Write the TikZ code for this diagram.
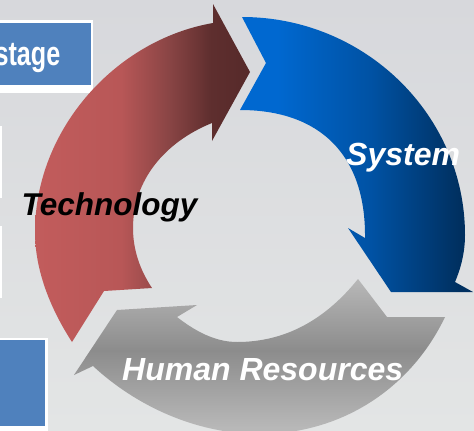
\documentclass[tikz,border=0pt]{standalone}
\usepackage{fontspec}
\setmainfont{Liberation Sans}
\newfontfamily\stagefont[FakeStretch=0.74]{Liberation Sans}
\definecolor{boxblue}{HTML}{4F81BD}
\definecolor{bgbot}{HTML}{E3E5E5}
\definecolor{bgtop}{HTML}{D7D8DC}
\definecolor{rA}{HTML}{C25C5C}
\definecolor{rB}{HTML}{B85757}
\definecolor{rC}{HTML}{8A4545}
\definecolor{rD}{HTML}{5E2E2E}
\definecolor{rE}{HTML}{562A2A}
\definecolor{bA}{HTML}{0068D0}
\definecolor{bB}{HTML}{0052A4}
\definecolor{bC}{HTML}{003060}
\definecolor{gA}{HTML}{B8B8B8}
\definecolor{gB}{HTML}{8C8C8C}
\pgfdeclareverticalshading{bgshade}{100bp}{color(0bp)=(bgbot); color(25bp)=(bgbot); color(75bp)=(bgtop); color(100bp)=(bgtop)}
\pgfdeclarehorizontalshading{redshade}{100bp}{color(0bp)=(rA); color(25bp)=(rA); color(45bp)=(rB); color(56bp)=(rC); color(66bp)=(rD); color(75bp)=(rE); color(100bp)=(rE)}
\pgfdeclarehorizontalshading{blueshade}{100bp}{color(0bp)=(bA); color(33bp)=(bA); color(53bp)=(bB); color(72bp)=(bC); color(100bp)=(bC)}
\pgfdeclareverticalshading{grayshade}{100bp}{color(0bp)=(gA); color(27bp)=(gA); color(52bp)=(gB); color(75bp)=(gA); color(100bp)=(gA)}
\tikzset{
  frame/.style={fill=white,draw=none},
  panel/.style={fill=boxblue,draw=none},
  label/.style={font=\bfseries\itshape\fontsize{32}{34}\selectfont,inner sep=0pt,anchor=base west},
  rim/.style={white,line width=2.4pt},
}
\begin{document}
\begin{tikzpicture}[x=1pt,y=-1pt]
\useasboundingbox (0,0) rectangle (474,431);
\clip (0,0) rectangle (474,431);
\shade[shading=bgshade] (0,0) rectangle (474,431);
% boxes
\fill[frame] (-10,20) rectangle (93,93);
\fill[panel] (-10,22.7) rectangle (90.7,85);
\draw[rim] (-10,127) -- (1.2,127) -- (1.2,197) -- (-10,197);
\draw[rim] (-10,227) -- (1.2,227) -- (1.2,297) -- (-10,297);
\fill[frame] (-10,337.5) rectangle (48,440);
\fill[panel] (-10,340) rectangle (45,426);
\node[font=\stagefont\bfseries\fontsize{34}{36}\selectfont,text=white,anchor=base east,inner sep=0pt] (stage) at (60.5,65.5) {stage};
% red arrow
\shade[shading=redshade] (72,342) .. controls (50,308) and (35,270) .. (35,232)
  .. controls (35,130) and (115,40) .. (213,23)
  -- (213,4) -- (250,72) -- (212,141) -- (212,123)
  .. controls (165,142) and (133,180) .. (133,228)
  .. controls (133,250) and (140,270) .. (152,288)
  -- (104,291) -- cycle;
% blue arrow
\shade[shading=blueshade] (242,17) .. controls (365,17) and (465,115) .. (465,235)
  .. controls (465,252) and (461,268) .. (455,282)
  -- (473,292) -- (391,292) -- (348,228) -- (365,238)
  .. controls (366,155) and (320,110) .. (240,110)
  -- (266,63) -- cycle;
% gray arrow
\shade[shading=grayshade] (93,366) .. controls (135,405) and (195,434) .. (260,434)
  .. controls (340,434) and (410,390) .. (445,317)
  -- (387,317) -- (358,279)
  .. controls (325,320) and (285,342) .. (237,342)
  .. controls (215,342) and (195,331) .. (177,317)
  -- (197,305) -- (117,310) -- (74,375) -- cycle;
% labels
\node[label,text=black,font=\bfseries\itshape\fontsize{31.5}{34}\selectfont] (tech) at (21.5,215) {Technology};
\node[label,text=white] (sys) at (346,165) {System};
\node[label,text=white] (hr) at (122,380) {Human Resources};
\end{tikzpicture}
\end{document}
